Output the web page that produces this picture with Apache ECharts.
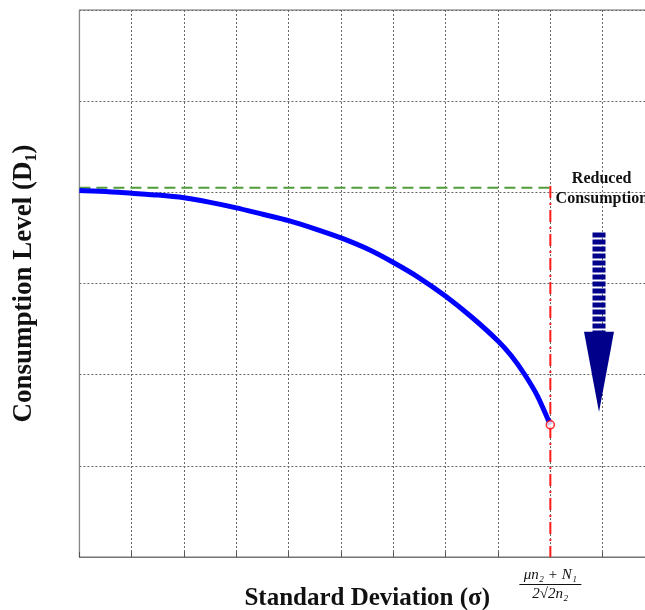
<!DOCTYPE html>
<html><head><meta charset="utf-8">
<script src="https://cdn.jsdelivr.net/npm/echarts@6/dist/echarts.min.js"></script>
<style>html,body{margin:0;padding:0;background:#fff}#c{width:645px;height:610px}</style>
</head><body><div id="c"></div>
<script>
// Standard deviation (x, in grid units) and consumption level (y, in grid units)
const sigma       = [0, 0.5, 1, 1.5, 2, 2.5, 3, 3.5, 4, 4.5, 5, 5.5, 6, 6.5, 7, 7.5, 8, 8.25, 8.5, 8.75, 9];
const consumption = [4.02, 4.01, 3.99, 3.97, 3.94, 3.89, 3.83, 3.76, 3.69, 3.60, 3.50, 3.38, 3.23, 3.06, 2.86, 2.63, 2.37, 2.21, 2.01, 1.77, 1.45];
const baseLevel = 4.05;       // green dashed reference level
const sigmaLimit = 9;         // position of the red limit line
const limitTop = 4.07;
const endPoint = [9, 1.45];
const arrowX = 9.93, arrowTop = 3.56, arrowHeadBase = 2.47, arrowTip = 1.59;
const limitLabel = '{n|μn₂ + N₁}\n{b|}\n{d|2√2n₂}';

const serif = '"Liberation Serif","Times New Roman",serif';
const chart = echarts.init(document.getElementById('c'), null, {renderer: 'canvas'});

const option = {
  animation: false,
  backgroundColor: '#fff',
  grid: {left: 79.4, top: 10, right: -10, bottom: 53, containLabel: false, outerBoundsMode: 'none',
         show: true, borderColor: '#6f6f6f', borderWidth: 1},
  xAxis: {
    type: 'value', min: 0, max: 11, interval: 1,
    name: 'Standard Deviation (σ)', nameLocation: 'middle', nameGap: 29, nameMoveOverlap: false,
    nameTextStyle: {fontFamily: serif, fontWeight: 'bold', fontSize: 25, color: '#111'},
    axisLine: {show: true, lineStyle: {color: '#777', width: 1.2}},
    axisTick: {show: true, inside: true, length: 5, lineStyle: {color: '#555'}},
    splitLine: {show: true, lineStyle: {color: '#666', type: [2, 2], width: 1}},
    axisLabel: {
      margin: 10, fontFamily: serif, fontStyle: 'italic', fontSize: 15, color: '#111', align: 'center',
      formatter: v => v === sigmaLimit ? limitLabel : '',
      rich: {
        n: {fontFamily: serif, fontStyle: 'italic', fontSize: 15, color: '#111', lineHeight: 16, align: 'center'},
        b: {width: 62, height: 1, lineHeight: 3, backgroundColor: '#111', align: 'center'},
        d: {fontFamily: serif, fontStyle: 'italic', fontSize: 15, color: '#111', lineHeight: 16, align: 'center'}
      }
    }
  },
  yAxis: {
    type: 'value', min: 0, max: 6, interval: 1,
    name: '{m|Consumption Level (D}{s|1}{m|)}', nameLocation: 'middle', nameGap: 40, nameRotate: 90,
    nameMoveOverlap: false,
    nameTextStyle: {
      fontFamily: serif, fontWeight: 'bold', fontSize: 27, color: '#111',
      rich: {
        m: {fontFamily: serif, fontWeight: 'bold', fontSize: 27, color: '#111', lineHeight: 30, verticalAlign: 'middle'},
        s: {fontFamily: serif, fontWeight: 'bold', fontSize: 16, color: '#111', lineHeight: 16, verticalAlign: 'bottom'}
      }
    },
    axisLine: {show: true, lineStyle: {color: '#888', width: 1.2}},
    axisTick: {show: false},
    axisLabel: {show: false},
    splitLine: {show: true, lineStyle: {color: '#666', type: [2, 2], width: 1}}
  },
  series: [
    {
      type: 'line', name: 'base', data: [[0, baseLevel], [sigmaLimit, baseLevel]],
      symbol: 'none', lineStyle: {color: '#4f9d38', width: 2, type: [11, 6]}, z: 3
    },
    {
      type: 'line', name: 'limit', data: [[sigmaLimit, limitTop], [sigmaLimit, 0]],
      symbol: 'none', lineStyle: {color: '#ff1a1a', width: 2, type: [12, 5, 2, 5]}, z: 3
    },
    {
      type: 'line', name: 'curve', data: sigma.map((s, i) => [s, consumption[i]]),
      symbol: 'none', smooth: 0.2, lineStyle: {color: '#0000ff', width: 5, join: 'round'}, z: 4
    },
    {
      type: 'scatter', name: 'end', data: [endPoint], symbol: 'circle', symbolSize: 8,
      itemStyle: {color: '#fff', borderColor: '#ff0000', borderWidth: 1.6}, z: 5
    }
  ]
};
chart.setOption(option);

// annotations (arrow + text) placed in data coordinates
const toPx = (x, y) => chart.convertToPixel({gridIndex: 0}, [x, y]);
const aTop = toPx(arrowX, arrowTop), aBase = toPx(arrowX, arrowHeadBase), aTip = toPx(arrowX, arrowTip);
const navy = '#00008b';
const txt1 = toPx(9.98, 4.15), txt2 = toPx(9.1, 3.93);
chart.setOption({
  graphic: [
    {type: 'line', shape: {x1: aTop[0], y1: aTop[1], x2: aBase[0], y2: aBase[1] + 2},
     style: {stroke: navy, lineWidth: 13, lineDash: [5, 2]}},
    {type: 'polygon', shape: {points: [[aBase[0] - 15, aBase[1]], [aBase[0] + 15, aBase[1]], [aTip[0], aTip[1]]]},
     style: {fill: navy}},
    {type: 'text', x: txt1[0], y: txt1[1],
     style: {text: 'Reduced', font: 'bold 16px ' + serif, fill: '#111', align: 'center', verticalAlign: 'middle'}},
    {type: 'text', x: txt2[0], y: txt2[1],
     style: {text: 'Consumption', font: 'bold 16px ' + serif, fill: '#111', align: 'left', verticalAlign: 'middle'}}
  ]
});
</script></body></html>
